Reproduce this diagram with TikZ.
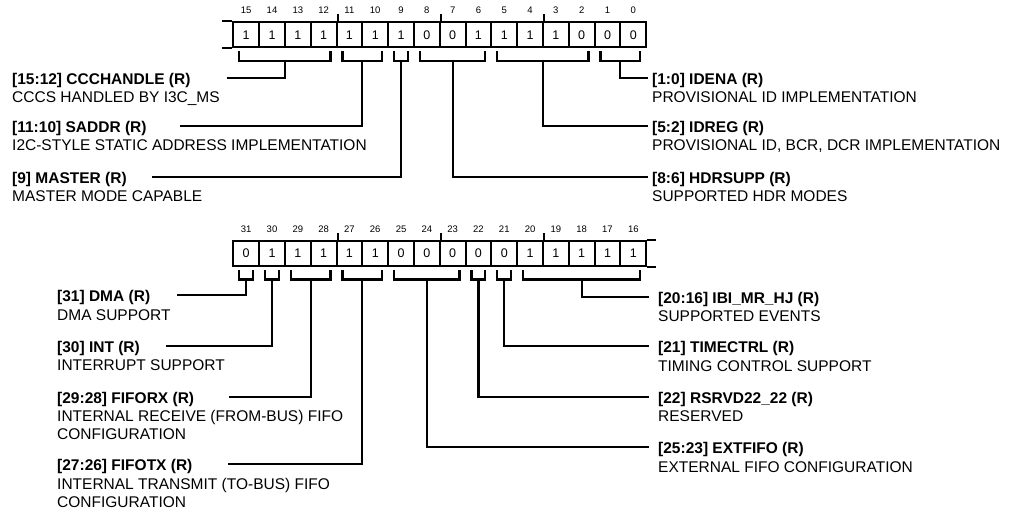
\documentclass[tikz,border=0pt]{standalone}
\usepackage{fontspec}
\setmainfont{Liberation Sans}
\newcommand\regbrk[4]{% name, first idx, last idx, y of register bottom
  \pgfmathsetmacro\bl{233.3+25.806*#2+6}%
  \pgfmathsetmacro\br{233.3+25.806*(#3+1)-6}%
  \pgfmathsetmacro\bm{(\bl+\br)/2}%
  \draw[conn] (\bl,#4+4) -- (\bl,#4+13.5) -- (\br,#4+13.5) -- (\br,#4+4);
  \coordinate (#1) at (\bm,#4+13.5);
}
\begin{document}
\begin{tikzpicture}[x=1pt,y=-1pt,
  reg/.style={line width=2pt},
  conn/.style={line width=2.2pt},
  cell/.style={draw, line width=2pt, minimum width=25.806pt, minimum height=25.5pt, inner sep=0pt, font=\fontsize{12.5}{14}\selectfont},
  bitnum/.style={inner sep=0pt, font=\fontsize{9.5}{11}\selectfont},
  ttl/.style={anchor=base west, inner sep=0pt, font=\fontsize{15.5}{18}\selectfont\bfseries},
  dsc/.style={anchor=base west, inner sep=0pt, font=\fontsize{15.5}{18}\selectfont},
]
\useasboundingbox (0,0) rectangle (1012,513);

% ---------- top register: bits 15..0 ----------
\foreach \v [count=\i from 0] in {1,1,1,1,1,1,1,0,0,1,1,1,1,0,0,0} {
  \pgfmathtruncatemacro\bn{15-\i}
  \node[cell] (t\i) at ({233.3+25.806*(\i+0.5)},34.75) {\v};
  \node[bitnum] (tb\i) at ({233.3+25.806*(\i+0.5)},10) {\bn};
}
\draw[reg] (t0.north west) -- ++(-10,0);
\draw[reg] (t0.south west) -- ++(-10,0);
\foreach \k in {3,7,11} \draw[reg] (t\k.north east) -- ++(0,-7);

% ---------- bottom register: bits 31..16 ----------
\foreach \v [count=\i from 0] in {0,1,1,1,1,1,0,0,0,0,0,1,1,1,1,1} {
  \pgfmathtruncatemacro\bn{31-\i}
  \node[cell] (u\i) at ({233.3+25.806*(\i+0.5)},253.5) {\v};
  \node[bitnum] (ub\i) at ({233.3+25.806*(\i+0.5)},229) {\bn};
}
\draw[reg] (u15.north east) -- ++(9,0);
\draw[reg] (u15.south east) -- ++(9,0);
\foreach \k in {3,7,11} \draw[reg] (u\k.north east) -- ++(0,-7);

% ---------- brackets ----------
\regbrk{bCCC}{0}{3}{47.5}
\regbrk{bSAD}{4}{5}{47.5}
\regbrk{bMAS}{6}{6}{47.5}
\regbrk{bHDR}{7}{9}{47.5}
\regbrk{bIDR}{10}{13}{47.5}
\regbrk{bIDE}{14}{15}{47.5}

\regbrk{bDMA}{0}{0}{266}
\regbrk{bINT}{1}{1}{266}
\regbrk{bFRX}{2}{3}{266}
\regbrk{bFTX}{4}{5}{266}
\regbrk{bEXT}{6}{8}{266}
\regbrk{bRSV}{9}{9}{266}
\regbrk{bTIM}{10}{10}{266}
\regbrk{bIBI}{11}{15}{266}

% ---------- line ends ----------
\coordinate (lCCC) at (226.7,77.7);
\coordinate (lSAD) at (180,126);
\coordinate (lMAS) at (151.7,176.7);
\coordinate (lIDE) at (648,77.7);
\coordinate (lIDR) at (648,126);
\coordinate (lHDR) at (648,176.7);
\coordinate (lDMA) at (176.7,295);
\coordinate (lINT) at (165.7,345.7);
\coordinate (lFRX) at (229.3,396.7);
\coordinate (lFTX) at (228.3,464.3);
\coordinate (lIBI) at (648.7,296.7);
\coordinate (lTIM) at (648.7,346);
\coordinate (lRSV) at (648.7,396.7);
\coordinate (lEXT) at (648.7,447);

\foreach \n in {CCC,SAD,MAS,IDE,IDR,HDR,DMA,INT,FRX,FTX,IBI,TIM,RSV,EXT}
  \draw[conn] (b\n) |- (l\n);

% ---------- texts: top left ----------
\node[ttl] (tCCC) at (12,84.2) {[15:12] CCCHANDLE (R)};
\node[dsc] (dCCC) at (12,102.7) {CCCS HANDLED BY I3C\_MS};
\node[ttl] (tSAD) at (12,132.5) {[11:10] SADDR (R)};
\node[dsc] (dSAD) at (12,151) {I2C-STYLE STATIC ADDRESS IMPLEMENTATION};
\node[ttl] (tMAS) at (12,183.2) {[9] MASTER (R)};
\node[dsc] (dMAS) at (12,201.7) {MASTER MODE CAPABLE};

% ---------- texts: top right ----------
\node[ttl] (tIDE) at (652,84.2) {[1:0] IDENA (R)};
\node[dsc] (dIDE) at (652,102.7) {PROVISIONAL ID IMPLEMENTATION};
\node[ttl] (tIDR) at (652,132.5) {[5:2] IDREG (R)};
\node[dsc] (dIDR) at (652,151) {PROVISIONAL ID, BCR, DCR IMPLEMENTATION};
\node[ttl] (tHDR) at (652,183.2) {[8:6] HDRSUPP (R)};
\node[dsc] (dHDR) at (652,201.7) {SUPPORTED HDR MODES};

% ---------- texts: bottom left ----------
\node[ttl] (tDMA) at (57,301.5) {[31] DMA (R)};
\node[dsc] (dDMA) at (57,320) {DMA SUPPORT};
\node[ttl] (tINT) at (57,352.2) {[30] INT (R)};
\node[dsc] (dINT) at (57,370.7) {INTERRUPT SUPPORT};
\node[ttl] (tFRX) at (57,403.2) {[29:28] FIFORX (R)};
\node[dsc] (dFRX) at (57,421.7) {INTERNAL RECEIVE (FROM-BUS) FIFO};
\node[dsc] (eFRX) at (57,439.7) {CONFIGURATION};
\node[ttl] (tFTX) at (57,470.8) {[27:26] FIFOTX (R)};
\node[dsc] (dFTX) at (57,489.3) {INTERNAL TRANSMIT (TO-BUS) FIFO};
\node[dsc] (eFTX) at (57,507.3) {CONFIGURATION};

% ---------- texts: bottom right ----------
\node[ttl] (tIBI) at (658,303.2) {[20:16] IBI\_MR\_HJ (R)};
\node[dsc] (dIBI) at (658,321.7) {SUPPORTED EVENTS};
\node[ttl] (tTIM) at (658,352.5) {[21] TIMECTRL (R)};
\node[dsc] (dTIM) at (658,371) {TIMING CONTROL SUPPORT};
\node[ttl] (tRSV) at (658,403.2) {[22] RSRVD22\_22 (R)};
\node[dsc] (dRSV) at (658,421.7) {RESERVED};
\node[ttl] (tEXT) at (658,453.5) {[25:23] EXTFIFO (R)};
\node[dsc] (dEXT) at (658,472) {EXTERNAL FIFO CONFIGURATION};
\end{tikzpicture}
\end{document}
